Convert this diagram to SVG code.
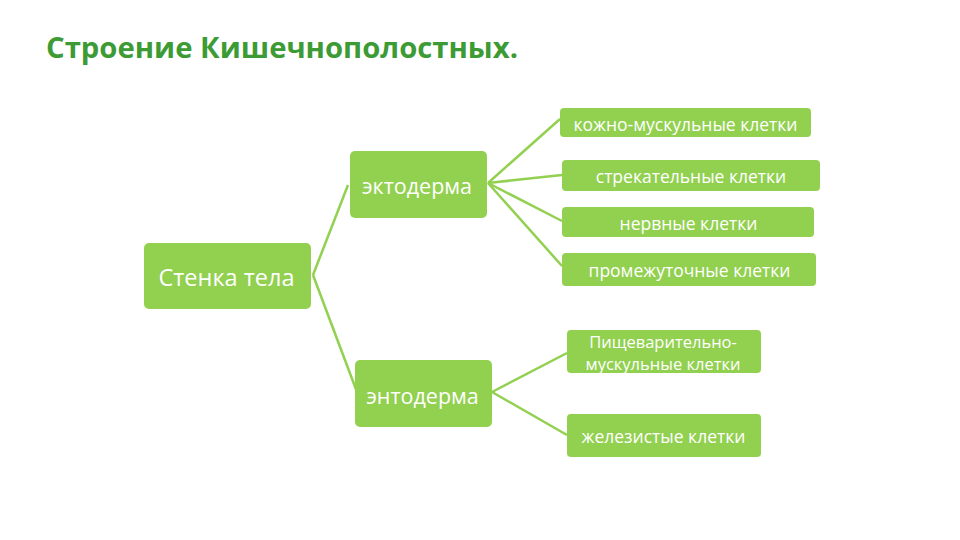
<svg xmlns="http://www.w3.org/2000/svg" width="960" height="540" viewBox="0 0 960 540">
<style>
.box{fill:#92D050;}
.t{font-family:"Open Sans","Liberation Sans",sans-serif;fill:#ffffff;text-anchor:middle;dominant-baseline:central;}
.big{font-size:23.5px;}
.mid{font-size:21.5px;}
.sm{font-size:17.5px;}
.sm2{font-size:16.5px;}
.conn line{stroke:#92D050;stroke-width:2.5;}
</style>
<rect width="960" height="540" fill="#ffffff"/>
<text x="46" y="58" font-family="Open Sans,Liberation Sans,sans-serif" font-weight="bold" font-size="28" fill="#3C9B34" textLength="472" lengthAdjust="spacingAndGlyphs">Строение Кишечнополостных.</text>
<g class="conn">
<line x1="313" y1="275" x2="348" y2="185"/>
<line x1="313" y1="275" x2="357" y2="392"/>
<line x1="488" y1="183" x2="560" y2="119"/>
<line x1="488" y1="183" x2="562" y2="175"/>
<line x1="488" y1="183" x2="562" y2="221"/>
<line x1="488" y1="183" x2="562" y2="266"/>
<line x1="492" y1="392" x2="567" y2="353"/>
<line x1="492" y1="392" x2="567" y2="435"/>
</g>
<g id="stenka"><rect class="box" x="144" y="243" width="167" height="66" rx="5"/><text class="t big" x="226.5" y="277">Стенка тела</text></g>
<g id="ekto"><rect class="box" x="350" y="151" width="137" height="67" rx="5"/><text class="t mid" x="417" y="185">эктодерма</text></g>
<g id="ento"><rect class="box" x="355" y="360" width="137" height="67" rx="5"/><text class="t mid" x="422.5" y="395">энтодерма</text></g>
<g id="n1"><rect class="box" x="560" y="108" width="251" height="29" rx="4"/><text class="t sm" x="685.5" y="123.5">кожно-мускульные клетки</text></g>
<g id="n2"><rect class="box" x="562" y="160" width="258" height="31" rx="4"/><text class="t sm" x="691" y="175.5">стрекательные клетки</text></g>
<g id="n3"><rect class="box" x="562" y="207" width="252" height="30" rx="4"/><text class="t sm" x="688.5" y="222.5">нервные клетки</text></g>
<g id="n4"><rect class="box" x="562" y="253" width="254" height="33" rx="4"/><text class="t sm" x="689.5" y="269.5">промежуточные клетки</text></g>
<g id="n5"><rect class="box" x="567" y="330" width="194" height="43" rx="4"/><text class="t sm2" x="663" y="341.5">Пищеварительно-</text><text class="t sm2" x="663" y="363">мускульные клетки</text></g>
<g id="n6"><rect class="box" x="567" y="414" width="194" height="43" rx="4"/><text class="t sm" x="663.5" y="436">железистые клетки</text></g>
</svg>
